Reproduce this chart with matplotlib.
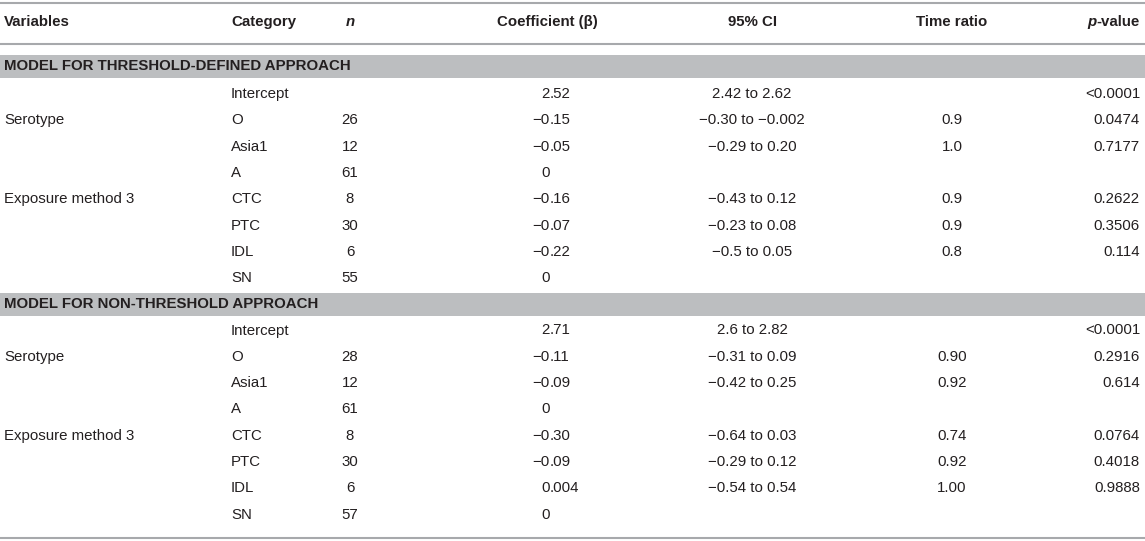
import matplotlib
matplotlib.use("Agg")
import matplotlib.pyplot as plt

plt.rcParams['font.family'] = ['Liberation Sans', 'DejaVu Sans']

# table contents
headers = ["Variables", "Category", "n", "Coefficient (β)", "95% CI", "Time ratio", "p-value"]

section_titles = ["MODEL FOR THRESHOLD-DEFINED APPROACH", "MODEL FOR NON-THRESHOLD APPROACH"]

variables = ["", "Serotype", "", "", "Exposure method 3", "", "", ""]
categories = ["Intercept", "O", "Asia1", "A", "CTC", "PTC", "IDL", "SN"]

n_thr = ["", "26", "12", "61", "8", "30", "6", "55"]
coef_thr = ["2.52", "−0.15", "−0.05", "0", "−0.16", "−0.07", "−0.22", "0"]
ci_thr = ["2.42 to 2.62", "−0.30 to −0.002", "−0.29 to 0.20", "", "−0.43 to 0.12",
          "−0.23 to 0.08", "−0.5 to 0.05", ""]
tr_thr = ["", "0.9", "1.0", "", "0.9", "0.9", "0.8", ""]
p_thr = ["<0.0001", "0.0474", "0.7177", "", "0.2622", "0.3506", "0.114", ""]

n_non = ["", "28", "12", "61", "8", "30", "6", "57"]
coef_non = ["2.71", "−0.11", "−0.09", "0", "−0.30", "−0.09", "0.004", "0"]
ci_non = ["2.6 to 2.82", "−0.31 to 0.09", "−0.42 to 0.25", "", "−0.64 to 0.03",
          "−0.29 to 0.12", "−0.54 to 0.54", ""]
tr_non = ["", "0.90", "0.92", "", "0.74", "0.92", "1.00", ""]
p_non = ["<0.0001", "0.2916", "0.614", "", "0.0764", "0.4018", "0.9888", ""]

W, H = 1145, 541
fig = plt.figure(figsize=(W / 100, H / 100), dpi=100)
ax = fig.add_axes([0, 0, 1, 1])
ax.set_xlim(0, W)
ax.set_ylim(H, 0)
ax.axis('off')

txt_col = '#231f20'
line_col = '#a7a9ac'
band_col = '#bcbec0'
fs = 10.8

# column anchors
x_var, x_cat, x_n, x_coef, x_ci, x_tr, x_p = 4, 231, 350, 550, 752, 952, 1140

fig.canvas.draw()
renderer = fig.canvas.get_renderer()


def text_width(t):
    bb = t.get_window_extent(renderer=renderer)
    return bb.width


# rules
ax.plot([0, W], [3, 3], color=line_col, lw=1.5)
ax.plot([0, W], [43.5, 43.5], color=line_col, lw=1.5)
ax.plot([0, W], [538, 538], color=line_col, lw=1.5)

# header row
hy = 22
kw = dict(color=txt_col, fontsize=fs, fontweight='bold', va='center')
ax.text(x_var, hy, headers[0], ha='left', **kw)
ax.text(x_cat, hy, headers[1], ha='left', **kw)
ax.text(x_n, hy, headers[2], ha='center', style='italic', **kw)
ax.text(547, hy, headers[3], ha='center', **kw)
ax.text(x_ci, hy, headers[4], ha='center', **kw)
ax.text(x_tr, hy, headers[5], ha='center', **kw)
t = ax.text(x_p, hy, "-value", ha='right', **kw)
w = text_width(t)
ax.text(x_p - w, hy, "p", ha='right', style='italic', **kw)


def coef_text(y, s):
    # decimal aligned coefficients
    kw2 = dict(color=txt_col, fontsize=fs, va='center')
    if "." in s:
        a, b = s.split(".")
        ax.text(x_coef, y, a, ha='right', **kw2)
        ax.text(x_coef, y, "." + b, ha='left', **kw2)
    else:
        ax.text(x_coef, y, s, ha='right', **kw2)


def block(band_top, row0, n, coef, ci, tr, p, title):
    ax.add_patch(plt.Rectangle((0, band_top), W, 23, color=band_col, lw=0))
    ax.text(x_var, band_top + 11.5, title, ha='left', va='center', color=txt_col,
            fontsize=fs, fontweight='bold')
    kw2 = dict(color=txt_col, fontsize=fs, va='center')
    for i in range(len(categories)):
        y = row0 + i * 26.3
        ax.text(x_var, y, variables[i], ha='left', **kw2)
        ax.text(x_cat, y, categories[i], ha='left', **kw2)
        ax.text(x_n, y, n[i], ha='center', **kw2)
        coef_text(y, coef[i])
        ax.text(x_ci, y, ci[i], ha='center', **kw2)
        ax.text(x_tr, y, tr[i], ha='center', **kw2)
        ax.text(x_p, y, p[i], ha='right', **kw2)


block(55, 94, n_thr, coef_thr, ci_thr, tr_thr, p_thr, section_titles[0])
block(293, 330.5, n_non, coef_non, ci_non, tr_non, p_non, section_titles[1])

fig.savefig("out.png", dpi=100)
